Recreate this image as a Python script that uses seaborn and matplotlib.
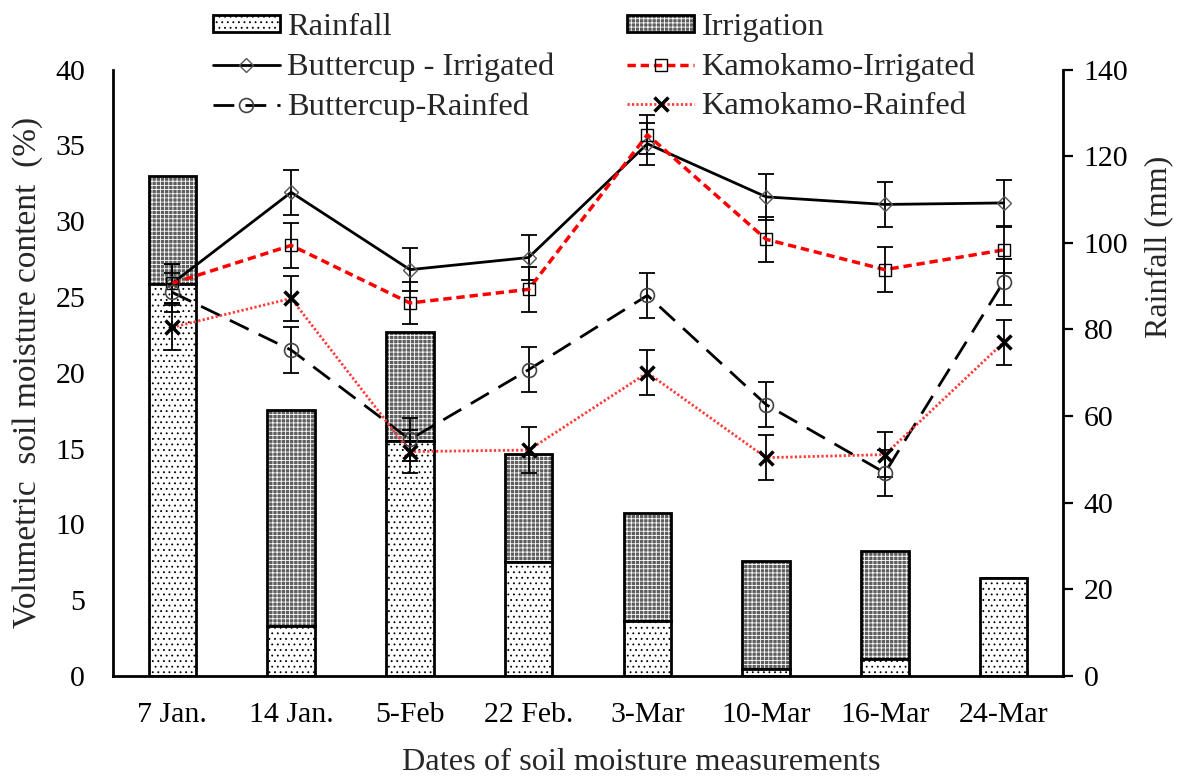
import numpy as np
import matplotlib
matplotlib.use("Agg")
import matplotlib.pyplot as plt
import seaborn as sns

# Measurement dates
dates = ["7 Jan.", "14 Jan.", "5-Feb", "22 Feb.", "3-Mar", "10-Mar", "16-Mar", "24-Mar"]

# Water inputs (mm)
rainfall_mm = [90.5, 11.5, 54.3, 26.2, 12.7, 1.6, 3.9, 22.6]
irrigation_mm = [25.0, 50.0, 25.0, 25.0, 25.0, 25.0, 25.0, 0.0]

# Volumetric soil moisture content (%) with standard errors
buttercup_irr = [25.9, 31.9, 26.8, 27.6, 35.1, 31.6, 31.1, 31.2]
buttercup_irr_se = [1.3, 1.5, 1.4, 1.5, 1.4, 1.5, 1.5, 1.5]
kamokamo_irr = [25.9, 28.4, 24.6, 25.5, 35.7, 28.8, 26.8, 28.1]
kamokamo_irr_se = [1.3, 1.5, 1.4, 1.5, 1.3, 1.5, 1.5, 1.5]
buttercup_rf = [25.3, 21.5, 15.6, 20.2, 25.1, 17.9, 13.4, 26.0]
buttercup_rf_se = [1.3, 1.5, 1.4, 1.5, 1.5, 1.5, 1.5, 1.5]
kamokamo_rf = [23.0, 24.9, 14.8, 14.9, 20.0, 14.4, 14.6, 22.0]
kamokamo_rf_se = [1.5, 1.5, 1.4, 1.5, 1.5, 1.5, 1.5, 1.5]

sns.set_theme(style="white")
plt.rcParams["font.family"] = ["Liberation Serif", "DejaVu Serif"]
plt.rcParams["lines.scale_dashes"] = False
plt.rcParams["hatch.linewidth"] = 0.6

fig = plt.figure(figsize=(11.86, 7.78), dpi=100)
ax = fig.add_axes([113 / 1186, 102 / 778, 950 / 1186, 606.5 / 778])
axr = ax.twinx()
ax.set_zorder(axr.get_zorder() + 1)
ax.patch.set_visible(False)

x = np.arange(len(dates))
bw = 0.4

# Stacked water-input bars on the rainfall axis
irr_fill = axr.bar(x, irrigation_mm, bottom=rainfall_mm, width=bw, color="#5e5e5e",
                   edgecolor="white", hatch="++++", linewidth=0)
irr_edge = axr.bar(x, irrigation_mm, bottom=rainfall_mm, width=bw, fill=False,
                   edgecolor="black", linewidth=2)
rain = axr.bar(x, rainfall_mm, width=bw, color="white", edgecolor="black",
               hatch="...", linewidth=2)

series = [
    (buttercup_irr, buttercup_irr_se, dict(color="black", linestyle="-", lw=2.0,
                                          marker="D", markersize=7.5, mec="#555555", mew=1.0)),
    (kamokamo_irr, kamokamo_irr_se, dict(color="#ff0000", linestyle=(0, (6, 3.5)), lw=2.5,
                                        marker="s", markersize=9, mec="black", mew=1.0)),
    (buttercup_rf, buttercup_rf_se, dict(color="black", linestyle=(0, (15, 8)), lw=2.0,
                                        marker="o", markersize=10, mec="#444444", mew=1.2)),
    (kamokamo_rf, kamokamo_rf_se, dict(color="#ff3b3b", linestyle=(0, (1.6, 1.6)), lw=2.0,
                                      marker="x", markersize=10, mec="black", mew=2.5)),
]
line_handles = []
for vals, se, st in series:
    ax.errorbar(x, vals, yerr=se, fmt="none", ecolor="black", elinewidth=1.3,
                capsize=6, capthick=1.3, zorder=2)
    n_before = len(ax.lines)
    sns.lineplot(x=x, y=vals, ax=ax, color=st["color"], linestyle=st["linestyle"],
                 lw=st["lw"], marker=st["marker"], markersize=st["markersize"],
                 markerfacecolor="none", markeredgecolor=st["mec"],
                 markeredgewidth=st["mew"], zorder=3)
    line_handles.append(ax.lines[n_before:][-1])

# Axes ranges and ticks
ax.set_xlim(-0.5, len(dates) - 0.5)
ax.set_ylim(0, 40)
axr.set_ylim(0, 140)
ax.set_xticks(x)
ax.set_xticklabels(dates)
ax.set_yticks(np.arange(0, 41, 5))
axr.set_yticks(np.arange(0, 141, 20))
ax.tick_params(axis="both", length=0, labelsize=21.5, colors="black")
ax.tick_params(axis="x", pad=19)
ax.tick_params(axis="y", pad=20)
axr.tick_params(axis="y", direction="out", length=7, width=1.6, pad=8,
                labelsize=21.5, colors="black", right=True)

for s in ["top", "right"]:
    ax.spines[s].set_visible(False)
for s in ["top", "left", "bottom"]:
    axr.spines[s].set_visible(False)
for sp in [ax.spines["left"], ax.spines["bottom"], axr.spines["right"]]:
    sp.set_linewidth(2)
    sp.set_color("black")

ax.set_xlabel("Dates of soil moisture measurements", fontsize=23.3)
ax.xaxis.set_label_coords(0.556, -0.118)
ax.set_ylabel("Volumetric  soil moisture content  (%)", fontsize=24)
ax.yaxis.set_label_coords(-0.074, 0.50)
axr.set_ylabel("Rainfall (mm)", fontsize=23)
axr.yaxis.set_label_coords(1.085, 0.707)

# Legend laid out column-wise: left column then right column
handles = [rain[0], line_handles[0], line_handles[2],
           (irr_fill[0], irr_edge[0]), line_handles[1], line_handles[3]]
labels = ["Rainfall", "Buttercup - Irrigated", "Buttercup-Rainfed",
          "Irrigation", "Kamokamo-Irrigated", "Kamokamo-Rainfed"]
fig.legend(handles, labels, ncol=2, loc="upper left",
           bbox_to_anchor=(213 / 1186, 1 - 13 / 778), bbox_transform=fig.transFigure,
           frameon=False, fontsize=23.4, handlelength=2.06, handleheight=0.45,
           handletextpad=0.22, columnspacing=2.25, labelspacing=0.32,
           borderpad=0, borderaxespad=0)

fig.savefig("out.png", dpi=100)
